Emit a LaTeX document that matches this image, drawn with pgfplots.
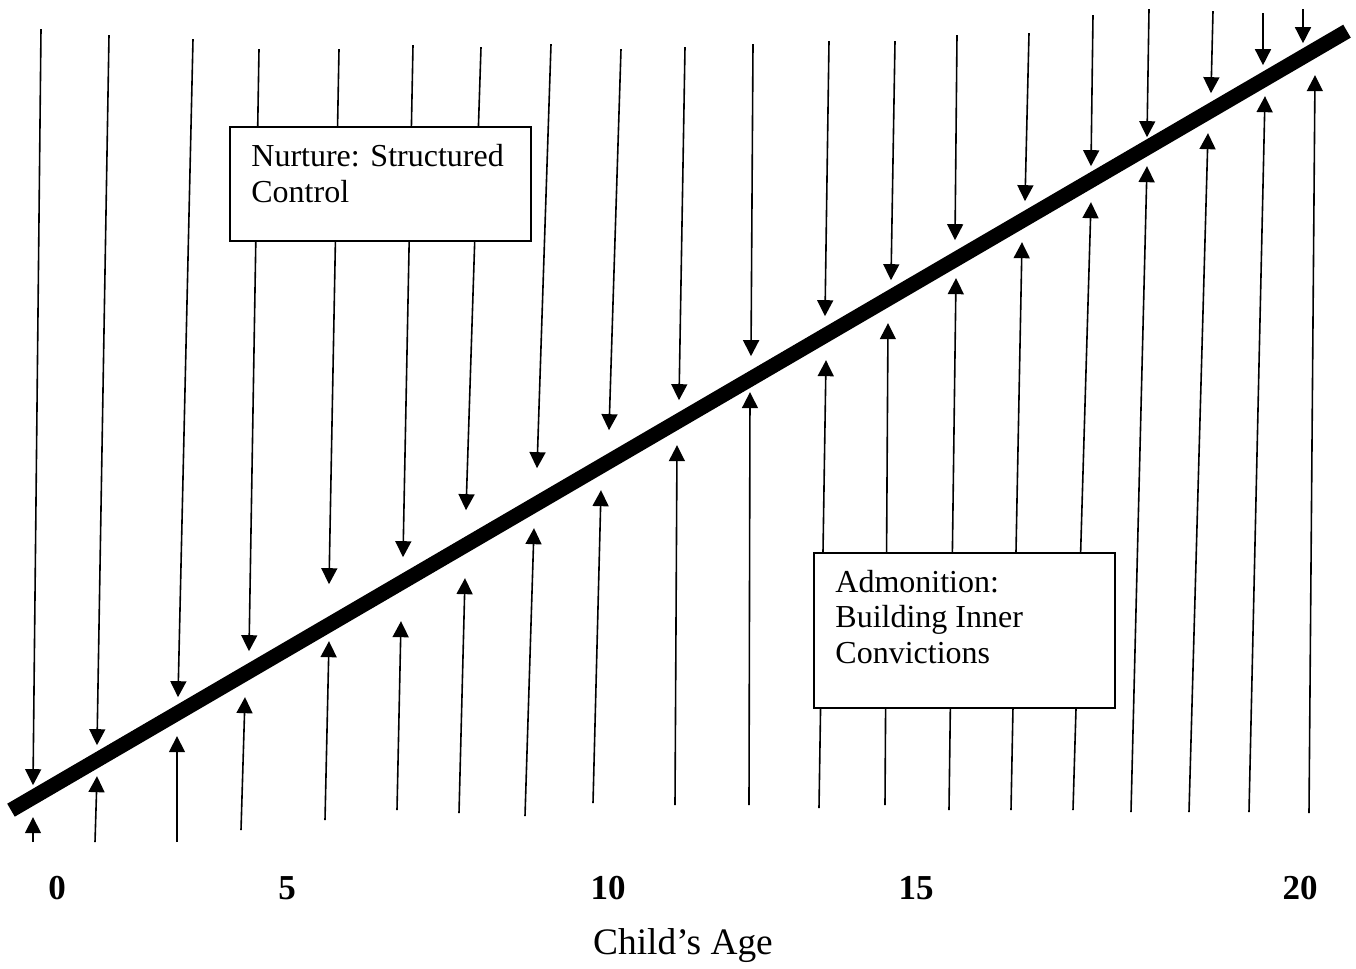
\documentclass[border=0pt]{standalone}
\usepackage{pgfplots}
\pgfplotsset{compat=1.18}
\usepackage{fontspec}
\setmainfont{Liberation Serif}
\usetikzlibrary{arrows.meta}
\pgfplotsset{arr/.style={black, line width=0.8pt, -{Triangle[width=8pt,length=8pt]}}}
\begin{document}
\begin{tikzpicture}
\begin{axis}[
  width=678pt, height=482pt, scale only axis,
  xmin=0, xmax=1356, ymin=0, ymax=964,
  clip=false,
  axis line style={draw=none},
  major tick length=0pt,
  ytick=\empty,
  xtick={57,287,608,916,1300},
  xticklabels={0,5,10,15,20},
  xticklabel style={font=\fontsize{17.5}{20}\selectfont\bfseries, anchor=center, yshift=38pt},
  xlabel={Child’s Age},
  xlabel style={at={(axis description cs:0.5037,0.0197)}, anchor=center, font=\fontsize{18.7}{22}\selectfont},
]
\path (axis cs:0,0) rectangle (axis cs:1356,964);
% down arrows (from above towards the line)
\addplot[arr] coordinates {(41,935) (33,179)};
\addplot[arr] coordinates {(109,929) (97,219)};
\addplot[arr] coordinates {(193,925) (178,267)};
\addplot[arr] coordinates {(259,915) (249,313)};
\addplot[arr] coordinates {(339,915) (329,380)};
\addplot[arr] coordinates {(413,919) (403,407)};
\addplot[arr] coordinates {(481,917) (466,454)};
\addplot[arr] coordinates {(551,920) (537,496)};
\addplot[arr] coordinates {(621,915) (609,534)};
\addplot[arr] coordinates {(685,917) (679,564)};
\addplot[arr] coordinates {(753,920) (751,608)};
\addplot[arr] coordinates {(829,923) (825,648)};
\addplot[arr] coordinates {(895,923) (891,684)};
\addplot[arr] coordinates {(957,929) (955,724)};
\addplot[arr] coordinates {(1029,931) (1025,763)};
\addplot[arr] coordinates {(1093,949) (1091,798)};
\addplot[arr] coordinates {(1149,955) (1147,827)};
\addplot[arr] coordinates {(1213,953) (1211,871)};
\addplot[arr] coordinates {(1263,951) (1263,899)};
\addplot[arr] coordinates {(1303,955) (1303,921)};
% up arrows (from below towards the line)
\addplot[arr] coordinates {(33,122) (33,147)};
\addplot[arr] coordinates {(95,122) (97,188)};
\addplot[arr] coordinates {(177,122) (177,228)};
\addplot[arr] coordinates {(241,134) (245,267)};
\addplot[arr] coordinates {(325,144) (329,323)};
\addplot[arr] coordinates {(397,154) (401,343)};
\addplot[arr] coordinates {(459,151) (465,386)};
\addplot[arr] coordinates {(525,148) (534,436)};
\addplot[arr] coordinates {(593,161) (601,474)};
\addplot[arr] coordinates {(675,159) (677,519)};
\addplot[arr] coordinates {(749,159) (750,572)};
\addplot[arr] coordinates {(819,156) (826,604)};
\addplot[arr] coordinates {(885,159) (888,641)};
\addplot[arr] coordinates {(949,154) (956,686)};
\addplot[arr] coordinates {(1011,154) (1022,722)};
\addplot[arr] coordinates {(1073,154) (1091,762)};
\addplot[arr] coordinates {(1131,152) (1147,798)};
\addplot[arr] coordinates {(1189,152) (1208,831)};
\addplot[arr] coordinates {(1249,152) (1265,868)};
\addplot[arr] coordinates {(1309,151) (1315,889)};
% thick growth line
\addplot[black, line width=7.5pt] coordinates {(11,154) (1347,933)};
% boxes
\draw[black, line width=1pt, fill=white] (axis cs:230,837) rectangle (axis cs:531,723);
\draw[black, line width=1pt, fill=white] (axis cs:814,411) rectangle (axis cs:1115,256);
\node[anchor=base west, inner sep=0pt, font=\fontsize{16}{18}\selectfont] at (axis cs:251,798) {Nurture: Structured};
\node[anchor=base west, inner sep=0pt, font=\fontsize{16}{18}\selectfont] at (axis cs:251,762) {Control};
\node[anchor=base west, inner sep=0pt, font=\fontsize{16}{18}\selectfont] at (axis cs:835,372) {Admonition:};
\node[anchor=base west, inner sep=0pt, font=\fontsize{16}{18}\selectfont] at (axis cs:835,337) {Building Inner};
\node[anchor=base west, inner sep=0pt, font=\fontsize{16}{18}\selectfont] at (axis cs:835,301) {Convictions};
\end{axis}
\end{tikzpicture}
\end{document}
